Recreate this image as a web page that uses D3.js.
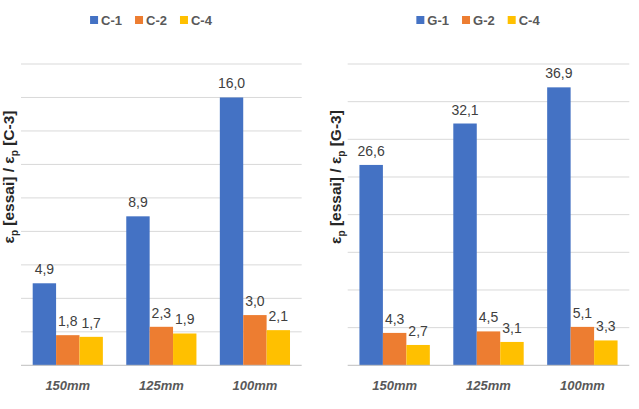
<!DOCTYPE html>
<html>
<head>
<meta charset="utf-8">
<script src="https://cdn.jsdelivr.net/npm/d3@7"></script>
<style>
  body { margin: 0; background: #fff; }
  text { font-family: "Liberation Sans", Arial, sans-serif; }
</style>
</head>
<body>
<script>
const categories = ["150mm", "125mm", "100mm"];

const seriesLeft = ["C-1", "C-2", "C-4"];
const leftC1 = [4.9, 8.9, 16.0];
const leftC2 = [1.8, 2.3, 3.0];
const leftC4 = [1.7, 1.9, 2.1];
const ticksLeft = [0, 2, 4, 6, 8, 10, 12, 14, 16, 18];

const seriesRight = ["G-1", "G-2", "C-4"];
const rightG1 = [26.6, 32.1, 36.9];
const rightG2 = [4.3, 4.5, 5.1];
const rightC4 = [2.7, 3.1, 3.3];
const ticksRight = [0, 5, 10, 15, 20, 25, 30, 35, 40];

const colors = ["#4472C4", "#ED7D31", "#FFC000"];

const w = 639, h = 409;
const svg = d3.select("body").append("svg")
  .attr("width", w)
  .attr("height", h);

const fmt = v => d3.format(".1f")(v).replace(".", ",");

function panel(opt) {
  const g = svg.append("g");
  const y = d3.scaleLinear()
    .domain([0, d3.max(opt.ticks)])
    .range([opt.base, opt.top]);
  const x = d3.scaleBand()
    .domain(categories)
    .range([opt.left, opt.right])
    .padding(0);
  // each group of bars takes 3/4 of the band, centred (gap width 100%)
  const xs = d3.scaleBand()
    .domain(opt.series)
    .range([x.bandwidth() * 0.125, x.bandwidth() * 0.875]);

  // grid
  g.selectAll("line.grid")
    .data(opt.ticks.slice(1))
    .enter()
    .append("line")
    .attr("x1", opt.left)
    .attr("x2", opt.right)
    .attr("y1", d => y(d))
    .attr("y2", d => y(d))
    .attr("stroke", "#d9d9d9")
    .attr("stroke-width", 1);

  const rows = [];
  opt.series.forEach((s, si) => {
    categories.forEach((c, ci) => {
      rows.push({ s, si, c, v: opt.values[si][ci] });
    });
  });

  g.selectAll("rect")
    .data(rows)
    .enter()
    .append("rect")
    .attr("x", d => x(d.c) + xs(d.s))
    .attr("y", d => y(d.v))
    .attr("width", xs.bandwidth())
    .attr("height", d => y(0) - y(d.v))
    .attr("fill", d => colors[d.si]);

  // baseline
  g.append("line")
    .attr("x1", opt.left)
    .attr("x2", opt.right)
    .attr("y1", y(0))
    .attr("y2", y(0))
    .attr("stroke", "#bfbfbf")
    .attr("stroke-width", 1);

  g.selectAll("text.val")
    .data(rows)
    .enter()
    .append("text")
    .attr("class", "val")
    .attr("x", d => x(d.c) + xs(d.s) + xs.bandwidth() / 2)
    .attr("y", d => y(d.v) - 9)
    .attr("text-anchor", "middle")
    .attr("font-size", 14)
    .attr("fill", "#404040")
    .text(d => fmt(d.v));

  // category labels
  g.selectAll("text.cat")
    .data(categories)
    .enter()
    .append("text")
    .attr("class", "cat")
    .attr("x", d => x(d) + x.bandwidth() / 2)
    .attr("y", 390)
    .attr("text-anchor", "middle")
    .attr("font-size", 13)
    .attr("font-weight", "bold")
    .attr("font-style", "italic")
    .attr("fill", "#595959")
    .text(d => d);

  // y title
  const t = g.append("text")
    .attr("transform", `translate(${opt.titleX},177) rotate(-90)`)
    .attr("text-anchor", "middle")
    .attr("font-size", 15.5)
    .attr("font-weight", "bold")
    .attr("fill", "#262626");
  t.append("tspan").text("ε");
  t.append("tspan").attr("font-size", 10).attr("dy", 4).text("p");
  t.append("tspan").attr("dy", -4).text(" [essai] / ε");
  t.append("tspan").attr("font-size", 10).attr("dy", 4).text("p");
  t.append("tspan").attr("dy", -4).text(" [" + opt.ref + "]");

  // legend
  const lg = g.append("g");
  let cx = 0;
  opt.series.forEach((s, i) => {
    const it = lg.append("g").attr("transform", `translate(${cx},0)`);
    it.append("rect")
      .attr("x", 0).attr("y", -4)
      .attr("width", 8).attr("height", 8)
      .attr("fill", colors[i]);
    const tx = it.append("text")
      .attr("x", 11).attr("y", 4.5)
      .attr("font-size", 13)
      .attr("font-weight", "bold")
      .attr("fill", "#595959")
      .text(s);
    cx += 11 + tx.node().getComputedTextLength() + 13;
  });
  const lw = cx - 13;
  lg.attr("transform", `translate(${opt.legendCx - lw / 2},20)`);
}

panel({
  left: 21, right: 301.7, top: 64, base: 365.3,
  ticks: ticksLeft, series: seriesLeft,
  values: [leftC1, leftC2, leftC4],
  titleX: 14, ref: "C-3", legendCx: 151
});

panel({
  left: 347.7, right: 629.3, top: 64, base: 365.3,
  ticks: ticksRight, series: seriesRight,
  values: [rightG1, rightG2, rightC4],
  titleX: 341, ref: "G-3", legendCx: 478
});
</script>
</body>
</html>
